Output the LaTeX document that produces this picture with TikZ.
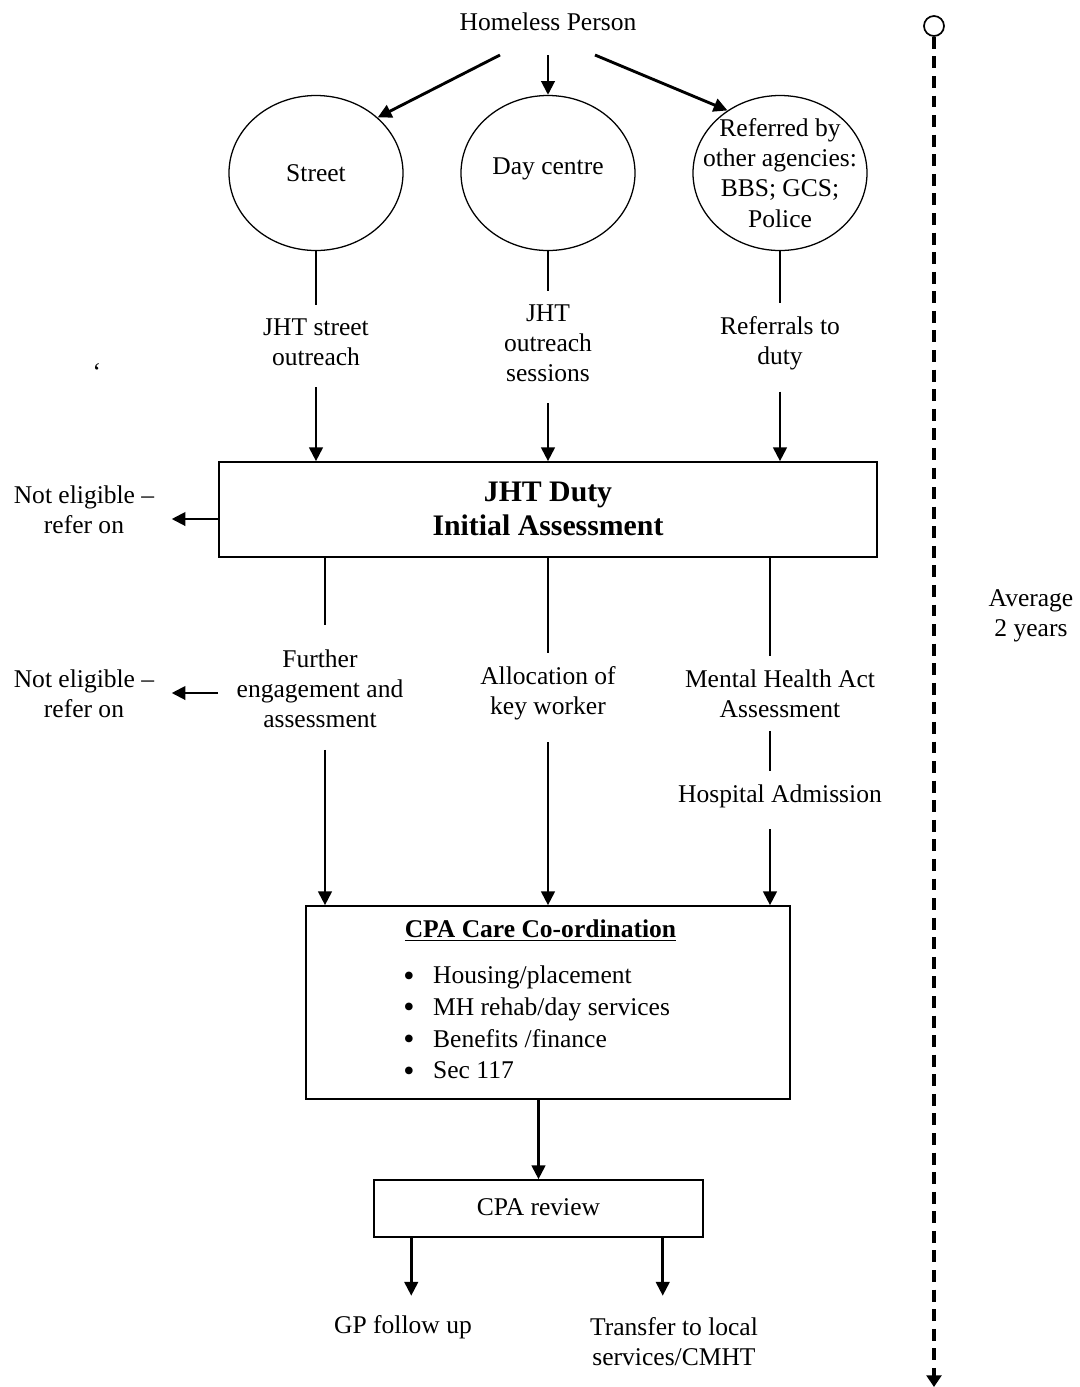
\documentclass[tikz,border=0pt]{standalone}
\usepackage{fontspec}
\setmainfont{Liberation Serif}
\usetikzlibrary{arrows.meta,shapes.geometric}
\newcommand{\bigbul}{\makebox[14pt][l]{\smash{\raisebox{-1.2pt}{\scalebox{1.25}{\textbullet}}}}}
\begin{document}
\begin{tikzpicture}[x=0.47pt,y=-0.47pt,
  txt/.style={align=center,font=\fontsize{12}{14.2}\selectfont,inner xsep=0pt,inner ysep=6pt},
  arr/.style={line width=1.35pt,-{Triangle[length=6.5pt,width=6.3pt]}},
  ln/.style={line width=1.2pt},
  boxed/.style={draw,line width=0.7pt,inner sep=0pt},
  blob/.style={draw,ellipse,line width=0.6pt,inner sep=0pt,minimum width={174*0.47pt},minimum height={155*0.47pt},align=center,font=\fontsize{12}{14.2}\selectfont},
  dashline/.style={line width=1.6pt,dash pattern=on 5.6pt off 3.6pt,-{Triangle[length=5.5pt,width=7pt]}}
]
\useasboundingbox (0,0) rectangle (1079,1387);

% top
\node[txt] (hp) at (548,22) {Homeless Person};
\node[blob] (street) at (316,173) {Street};
\node[blob] (day) at (548,173) {\raisebox{6pt}{Day centre}};
\node[blob,inner sep=-10pt] (ref) at (780,173) {Referred by\\other agencies:\\BBS; GCS;\\Police};
\coordinate (hpL) at (500,55);
\coordinate (hpM) at (548,55);
\coordinate (hpR) at (595,55);
\draw[arr] (hpL) -- (street.42);
\draw[arr] (hpM) -- (day.north);
\draw[arr] (hpR) -- (ref.130);

% first labels
\node[txt] (l1) at (316,342) {JHT street\\outreach};
\node[txt] (l2) at (548,343) {JHT\\outreach\\sessions};
\node[txt] (l3) at (780,343) {Referrals to\\duty};
\node[txt] (bt) at (97,372) {\symbol{"60}};
\draw[ln] (street.south) -- (street.south |- l1.north);
\draw[ln] (day.south) -- (day.south |- l2.north);
\draw[ln] (ref.south) -- (ref.south |- l3.north);

% duty box
\node[boxed,minimum width={658*0.47pt},minimum height={95*0.47pt},align=center,
  font=\fontsize{14}{16}\selectfont\bfseries] (duty) at (548,509.5) {\raisebox{1pt}{JHT Duty}\\\raisebox{1pt}{Initial Assessment}};
\draw[arr,shorten <=4pt] (l1.south) -- (l1.south |- duty.north);
\draw[arr,shorten <=4pt] (l2.south) -- (l2.south |- duty.north);
\draw[arr,shorten <=4pt] (l3.south) -- (l3.south |- duty.north);

\node[txt,inner xsep=8pt] (ne1) at (84,510) {Not eligible --\\refer on};
\coordinate (ne1s) at (219,519);
\draw[arr] (ne1s) -- (ne1s -| ne1.east);

% second labels
\node[txt] (fe) at (320,689) {Further\\engagement and\\assessment};
\node[txt] (ak) at (548,693.5) {Allocation of\\key worker};
\node[txt] (mh) at (780,693.5) {Mental Health Act\\Assessment};
\node[txt] (ha) at (780,796) {Hospital Admission};
\node[txt,inner xsep=8pt] (ne2) at (84,693.5) {Not eligible --\\refer on};
\coordinate (ne2s) at (218,693);
\draw[arr] (ne2s) -- (ne2s -| ne2.east);

\coordinate (d1) at (325,557);
\coordinate (d3) at (770,557);
\coordinate (d1e) at (325,625);
\draw[ln] (d1) -- (d1e);
\draw[ln] (duty.south) -- (duty.south |- ak.north);
\draw[ln] (d3) -- (d3 |- mh.north);
\draw[ln] (d3 |- mh.south) -- (d3 |- ha.north);

% CPA box
\node[boxed,minimum width={484*0.47pt},minimum height={193*0.47pt}] (cpa) at (548,1002.5) {};
\node[txt,inner ysep=0pt,font=\fontsize{12}{14.2}\selectfont\bfseries] (cpat) at (540.5,931) {\underline{CPA Care Co-ordination}};
\node[txt,inner ysep=0pt,align=left,anchor=west,font=\fontsize{12}{14.9}\selectfont] (cpal) at (403,1022.5) {%
\bigbul Housing/placement\\
\bigbul MH rehab/day services\\
\bigbul Benefits /finance\\
\bigbul Sec 117};
\draw[arr,shorten <=4pt] (fe.south -| d1) -- (d1 |- cpa.north);
\draw[arr,shorten <=4pt] (ak.south) -- (ak.south |- cpa.north);
\draw[arr,shorten <=4pt] (d3 |- ha.south) -- (d3 |- cpa.north);

% review
\node[boxed,minimum width={329*0.47pt},minimum height={57*0.47pt},txt,inner sep=0pt] (rev) at (538.5,1208.5) {\raisebox{1pt}{CPA review}};
\draw[arr] (rev.north |- cpa.south) -- (rev.north);
\node[txt] (gp) at (403,1327) {GP follow up};
\node[txt] (tr) at (674,1341.5) {Transfer to local\\services/CMHT};
\draw[arr] ([xshift={38*0.47pt}]rev.south west) -- ++(0,58);
\draw[arr] ([xshift={-41*0.47pt}]rev.south east) -- ++(0,58);

% timeline
\node[draw,circle,line width=0.8pt,minimum size={20*0.47pt},inner sep=0pt] (tc) at (934,26) {};
\coordinate (te) at (934,1387);
\draw[dashline] (tc.south) -- (te);
\node[txt] (avg) at (1031,616) {Average\\2 years};
\end{tikzpicture}
\end{document}
